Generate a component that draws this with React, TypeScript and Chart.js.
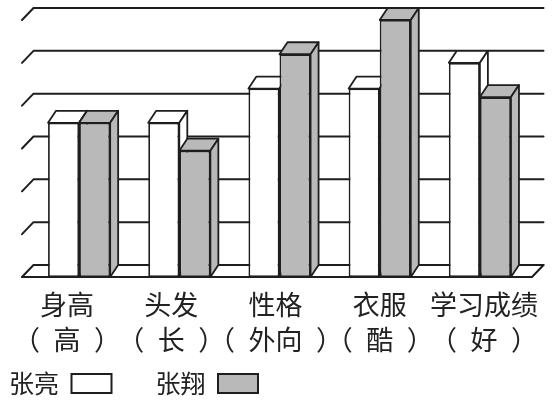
import { useEffect, useRef } from 'react';
import { Chart, registerables } from 'chart.js';

Chart.register(...registerables);

// ---- data ----
const categories: string[][] = [
  ['身高', '（\u2002高\u2002）'],
  ['头发', '（\u2002长\u2002）'],
  ['性格', '（\u2002外向\u2002）'],
  ['衣服', '（\u2002酷\u2002）'],
  ['学习成绩', '（\u2002好\u2002）'],
];
const seriesNames = ['张亮', '张翔'];
const zhangLiang = [3.6, 3.6, 4.4, 4.4, 5.0];
const zhangXiang = [3.6, 2.95, 5.2, 6.0, 4.2];
const yMin = 0;
const yMax = 6;
const yStep = 1;

// ---- styles ----
const FONT = '"Noto Sans CJK SC", "Noto Sans", sans-serif';
const LINE = '#1e1e1e';
const WHITE = '#ffffff';
const GRAY = '#b9b9b9';
const BAR_DX = 8;
const DEPTH_Y = 12;
const GRID_DX = 11.5;

const threeD = {
  id: 'threeD',
  afterLayout(chart: any) {
    // let the two-line category labels extend below their axis box
    const lab = chart.scales.xl;
    if (lab) lab.bottom = chart.height;
  },
  beforeDatasetsDraw(chart: any) {
    const { ctx, chartArea, scales } = chart;
    const ys = scales.y;
    const fl = chartArea.left - 7;
    const fr = chartArea.right + 2;
    ctx.save();
    ctx.strokeStyle = LINE;
    ctx.lineWidth = 2;
    ctx.lineJoin = 'round';
    ctx.lineCap = 'round';
    // back wall grid lines with perspective ticks
    ys.ticks.forEach((t: any) => {
      const py = ys.getPixelForValue(t.value);
      ctx.beginPath();
      ctx.moveTo(fl, py);
      ctx.lineTo(fl + GRID_DX, py - DEPTH_Y);
      ctx.lineTo(fr + GRID_DX, py - DEPTH_Y);
      ctx.stroke();
    });
    // floor front edge
    const p0 = ys.getPixelForValue(yMin);
    ctx.beginPath();
    ctx.moveTo(fl, p0);
    ctx.lineTo(fr, p0);
    ctx.lineTo(fr + GRID_DX, p0 - DEPTH_Y);
    ctx.stroke();

    // bar top and side faces
    ctx.lineWidth = 1.8;
    const n = chart.data.labels.length;
    for (let i = 0; i < n; i++) {
      for (let d = 0; d < chart.data.datasets.length; d++) {
        const meta = chart.getDatasetMeta(d);
        const bar = meta.data[i];
        if (!bar) continue;
        const { x, y, base, width } = bar.getProps(['x', 'y', 'base', 'width'], true);
        const l = x - width / 2;
        const r = x + width / 2;
        ctx.fillStyle = chart.data.datasets[d].backgroundColor;
        ctx.beginPath();
        ctx.moveTo(l, y);
        ctx.lineTo(l + BAR_DX, y - DEPTH_Y);
        ctx.lineTo(r + BAR_DX, y - DEPTH_Y);
        ctx.lineTo(r, y);
        ctx.closePath();
        ctx.fill();
        ctx.stroke();
        ctx.beginPath();
        ctx.moveTo(r, y);
        ctx.lineTo(r + BAR_DX, y - DEPTH_Y);
        ctx.lineTo(r + BAR_DX, base - DEPTH_Y);
        ctx.lineTo(r, base);
        ctx.closePath();
        ctx.fill();
        ctx.stroke();
      }
    }
    ctx.restore();
  },
};

export default function App() {
  const ref = useRef<HTMLCanvasElement | null>(null);

  useEffect(() => {
    if (!ref.current) return;
    const chart = new Chart(ref.current, {
      type: 'bar',
      data: {
        labels: categories,
        datasets: [
          {
            label: seriesNames[0],
            data: zhangLiang,
            backgroundColor: WHITE,
            borderColor: LINE,
            borderWidth: 1.8,
            borderSkipped: false,
            categoryPercentage: 0.62,
            barPercentage: 1,
          },
          {
            label: seriesNames[1],
            data: zhangXiang,
            backgroundColor: GRAY,
            borderColor: LINE,
            borderWidth: 1.8,
            borderSkipped: false,
            categoryPercentage: 0.62,
            barPercentage: 1,
          },
        ],
      },
      options: {
        animation: false,
        responsive: false,
        events: [],
        layout: { padding: { left: -35, right: 26, top: 20, bottom: -2 } },
        scales: {
          x: { display: false },
          xl: {
            type: 'linear',
            position: 'bottom',
            offset: false,
            min: -0.3645,
            max: 4.4415,
            afterBuildTicks: (s: any) => {
              s.ticks = categories.map((_, i) => ({ value: i }));
            },
            grid: { display: false, drawTicks: false, offset: false },
            border: { display: false },
            ticks: {
              callback: (v: any) => categories[v],
              font: { family: FONT, size: 27, lineHeight: '35px' },
              color: '#222',
              padding: 10,
              maxRotation: 0,
              autoSkip: false,
            },
            afterFit: (s: any) => {
              s.height = 50;
            },
          },
          y: {
            min: yMin,
            max: yMax,
            ticks: { display: false, stepSize: yStep },
            grid: { display: false, drawTicks: false },
            border: { display: false },
            afterFit: (s: any) => {
              s.width = 64;
            },
          },
        },
        plugins: {
          legend: {
            position: 'bottom',
            align: 'end',
            rtl: true,
            reverse: true,
            labels: {
              font: { family: FONT, size: 25 },
              color: '#222',
              boxWidth: 40,
              boxHeight: 19,
              padding: 44,
              generateLabels: (c: any) =>
                Chart.defaults.plugins.legend.labels
                  .generateLabels(c)
                  .map((it: any) => ({ ...it, lineWidth: 2, strokeStyle: LINE })),
            },
          },
          tooltip: { enabled: false },
        },
      } as any,
      plugins: [threeD],
    });
    return () => chart.destroy();
  }, []);

  return (
    <div style={{ position: 'fixed', left: 0, top: 0, width: 556, height: 404, background: '#fff' }}>
      <canvas ref={ref} width={556} height={404} style={{ display: 'block' }} />
    </div>
  );
}
